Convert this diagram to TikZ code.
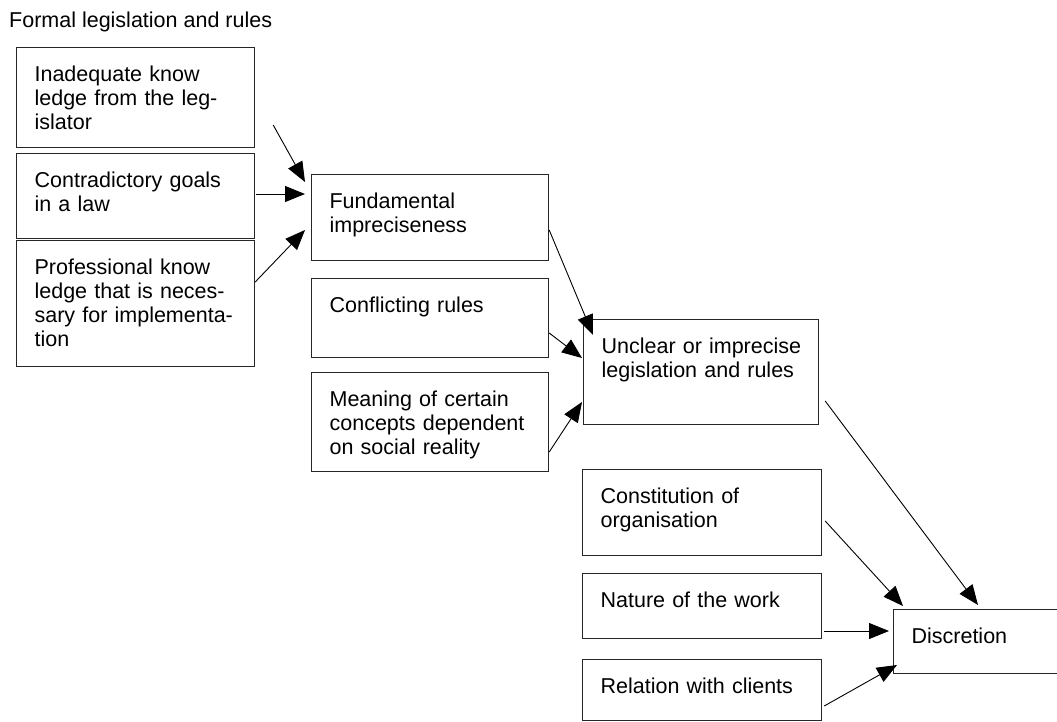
\documentclass[tikz,border=0pt]{standalone}
\usepackage{fontspec}
\setmainfont{Liberation Sans}
\usetikzlibrary{arrows.meta}

\begin{document}
\begin{tikzpicture}[x=1pt,y=-1pt,font=\fontsize{21.5}{24}\selectfont,
	box/.style={draw=black!85,line width=1.2pt,anchor=north west,inner xsep=18pt,inner ysep=0pt,align=left,text height=34pt},
	arr/.style={-{Triangle[length=20pt,width=16pt]},line width=0.9pt}]
	\useasboundingbox (0,0) rectangle (1057,721);
	\node[anchor=base west,inner sep=0pt] (title) at (9,27) {Formal legislation and rules};
	% causes on the left
	\node[box,text width=202pt,text depth=66pt] (know) at (16,47) {Inadequate know\\ledge from the leg-\\islator};
	\node[box,text width=202pt,text depth=51pt] (goals) at (16,153) {Contradictory goals\\in a law};
	\node[box,text width=202pt,text depth=92pt] (prof) at (16,240) {Professional know\\ledge that is neces-\\\mbox{sary for implementa-}\\tion};
	% middle column
	\node[box,text width=201pt,text depth=52pt] (fund) at (311,174) {Fundamental\\impreciseness};
	\node[box,text width=201pt,text depth=45pt] (conflict) at (311,278) {Conflicting rules};
	\node[box,text width=201pt,text depth=65pt] (meaning) at (311,372) {Meaning of certain\\\mbox{concepts dependent}\\on social reality};
	\node[box,text width=199pt,text depth=71pt] (unclear) at (583,319) {\mbox{Unclear or imprecise}\\legislation and rules};
	% right column
	\node[box,text width=203pt,text depth=52pt] (constit) at (582,469) {Constitution of\\organisation};
	\node[box,text width=203pt,text depth=31pt] (nature) at (582,573) {Nature of the work};
	\node[box,text width=203pt,text depth=27pt] (clients) at (582,659) {Relation with clients};
	\node[box,text width=164pt,text depth=30pt] (discr) at (893,609) {Discretion};
	\path ([shift={(18,78)}]know.north east) edge[arr] ([shift={(-6,8)}]fund.north west)
		([shift={(1,41)}]goals.north east) edge[arr] ([shift={(-6,20)}]fund.north west)
		([shift={(0,42)}]prof.north east) edge[arr] ([shift={(-6,56)}]fund.north west)
		([shift={(0,56)}]fund.north east) edge[arr] ([shift={(10,16)}]unclear.north west)
		([shift={(0,55)}]conflict.north east) edge[arr] ([shift={(-1,39)}]unclear.north west)
		([shift={(0,80)}]meaning.north east) edge[arr] ([shift={(-1,83)}]unclear.north west)
		([shift={(6,82)}]unclear.north east) edge[arr] ([shift={(85,-4)}]discr.north west)
		([shift={(3,52)}]constit.north east) edge[arr] ([shift={(10,-3)}]discr.north west)
		([shift={(2,58)}]nature.north east) edge[arr] ([shift={(-4,22)}]discr.north west)
		([shift={(2,47)}]clients.north east) edge[arr] ([shift={(4,56)}]discr.north west);
\end{tikzpicture}
\end{document}
